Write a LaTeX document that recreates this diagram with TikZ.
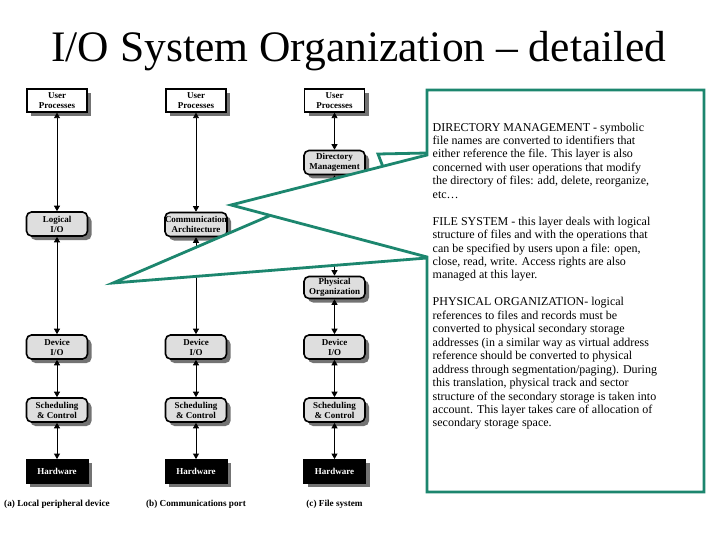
\documentclass[tikz,border=0pt]{standalone}
\usepackage{fontspec}
\setmainfont{Liberation Serif}
\usetikzlibrary{arrows.meta,shadows}
\definecolor{calloutgreen}{RGB}{28,134,110}
\definecolor{boxgray}{RGB}{222,222,222}
\begin{document}
\begin{tikzpicture}[x=1pt,y=-1pt,
  boxfont/.style={font=\fontsize{9}{10}\selectfont\bfseries},
  shadowed/.style={drop shadow={shadow xshift=4pt,shadow yshift=-4pt,fill=black!55,opacity=1}},
  upbox/.style={boxfont,draw=black,line width=1.3pt,fill=white,minimum width=60pt,minimum height=23pt,inner sep=0pt,align=center,shadowed},
  rbox/.style={boxfont,draw=black,line width=1.6pt,rounded corners=5pt,fill=boxgray,minimum width=61pt,minimum height=24pt,inner sep=0pt,align=center,shadowed},
  hwbox/.style={boxfont,draw=black,fill=black,text=white,minimum width=62pt,minimum height=24pt,inner sep=0pt,align=center,shadowed},
  caption/.style={font=\fontsize{9.2}{10}\selectfont\bfseries,anchor=base},
  conn/.style={{Triangle[length=5.5pt,width=6pt]}-{Triangle[length=5.5pt,width=6pt]},line width=0.8pt},
  callout/.style={draw=calloutgreen,line width=2.8pt,fill=white,line join=miter}
]
\useasboundingbox (0,0) rectangle (720,540);

\node[font=\fontsize{43.5}{50}\selectfont,anchor=base] (title) at (359,62) {I/O System Organization – detailed};

% column a
\node[upbox] (ua) at (57,100.5) {User\\Processes};
\node[rbox] (la) at (57,224) {Logical\\I/O};
\node[rbox] (da) at (57,347) {Device\\I/O};
\node[rbox] (sa) at (57,410) {Scheduling\\\& Control};
\node[hwbox] (ha) at (57,471.3) {Hardware};
\node[caption] (capa) at (57,506) {(a) Local peripheral device};

% column b
\node[upbox] (ub) at (196,100.5) {User\\Processes};
\node[rbox] (cb) at (196,224.5) {Communication\\Architecture};
\node[rbox] (db) at (196,347) {Device\\I/O};
\node[rbox] (sb) at (196,410) {Scheduling\\\& Control};
\node[hwbox] (hb) at (196,471.3) {Hardware};
\node[caption] (capb) at (196,506) {(b) Communications port};

% column c
\node[upbox] (uc) at (334.5,100.5) {User\\Processes};
\node[rbox] (mc) at (334.5,162.5) {Directory\\Management};
\node[rbox,minimum height=22pt] (pc) at (334.5,287.5) {Physical\\Organization};
\node[rbox] (dc) at (334.5,347) {Device\\I/O};
\node[rbox] (sc) at (334.5,410) {Scheduling\\\& Control};
\node[hwbox] (hc) at (334.5,471.3) {Hardware};
\node[caption] (capc) at (334.5,506) {(c) File system};

% connectors
\draw[conn] (ua.south) -- (la.north);
\draw[conn] (la.south) -- (da.north);
\draw[conn] (da.south) -- (sa.north);
\draw[conn] (sa.south) -- (ha.north);
\draw[conn] (ub.south) -- (cb.north);
\draw[conn] (cb.south) -- (db.north);
\draw[conn] (db.south) -- (sb.north);
\draw[conn] (sb.south) -- (hb.north);
\draw[conn] (uc.south) -- (mc.north);
\draw[conn] (mc.south) -- (pc.north);
\draw[conn] (pc.south) -- (dc.north);
\draw[conn] (dc.south) -- (sc.north);
\draw[conn] (sc.south) -- (hc.north);

% callouts
\draw[callout] (113,283) -- (383,167) -- (378,154) -- (427,153) -- (427,258) -- cycle;
\draw[callout] (427,90) -- (704,90) -- (704,492) -- (427,492) -- (427,257) -- (231,205) -- (427,155) -- cycle;

\node[anchor=north west,inner sep=0pt,align=left,font=\fontsize{12}{13.45}\selectfont] (txt) at (432.5,122.5) {%
DIRECTORY MANAGEMENT - symbolic\\
file names are converted to identifiers that\\
either reference the file. This layer is also\\
concerned with user operations that modify\\
the directory of files: add, delete, reorganize,\\
etc…\\[13.45pt]
FILE SYSTEM - this layer deals with logical\\
structure of files and with the operations that\\
can be specified by users upon a file: open,\\
close, read, write. Access rights are also\\
managed at this layer.\\[13.45pt]
PHYSICAL ORGANIZATION- logical\\
references to files and records must be\\
converted to physical secondary storage\\
addresses (in a similar way as virtual address\\
reference should be converted to physical\\
address through segmentation/paging). During\\
this translation, physical track and sector\\
structure of the secondary storage is taken into\\
account. This layer takes care of allocation of\\
secondary storage space.};
\end{tikzpicture}
\end{document}
